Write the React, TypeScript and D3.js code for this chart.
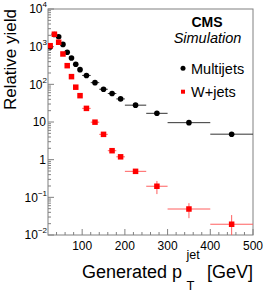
import React from "react";
import * as d3 from "d3";

const binEdges = [20, 30, 40, 50, 60, 70, 80, 90, 100, 120, 140, 160, 180, 200, 250, 300, 400, 500];
const multijets = [980, 2100, 1840, 1150, 710, 500, 340, 245, 172, 111, 74, 57, 41, 28, 17, 9.6, 4.75];
const wjets = [1060, 2140, 1310, 640, 313, 160, 84, 50, 23, 9.9, 4.7, 1.73, 1.19, 0.49, 0.197, 0.049, 0.0193];
const wjetsErr = [0, 0, 0, 0, 0, 0, 0, 0, 0.8, 0.4, 0.25, 0.12, 0.1, 0.05, 0.075, 0.021, 0.0145];
const xTicks = [100, 200, 300, 400, 500];
const yTickExps = [4, 3, 2, 1, 0, -1, -2];

const W = 266, H = 291;
const L = 48, R = 253, T = 9, B = 235;
const FONT = "'Liberation Sans', Arial, Helvetica, sans-serif";

export default function App() {
  const x = d3.scaleLinear().domain([20, 500]).range([L, R]);
  const y = d3.scaleLog().domain([0.01, 10000]).range([B, T]);
  const bins = multijets.map((_, i) => ({
    lo: binEdges[i], hi: binEdges[i + 1], c: (binEdges[i] + binEdges[i + 1]) / 2,
  }));

  const minorX: number[] = [];
  for (let v = 40; v < 500; v += 20) if (v % 100 !== 0) minorX.push(v);
  const minorY: number[] = [];
  for (let e = -2; e < 4; e++) for (let k = 2; k <= 9; k++) minorY.push(k * Math.pow(10, e));

  const axisColor = "#808080";
  const redErrColor = "rgb(255,95,95)";

  return (
    <svg width={W} height={H} style={{ position: "absolute", left: 0, top: 0, background: "#fff" }} fontFamily={FONT}>
      <defs>
        <clipPath id="plot"><rect x={L} y={T} width={R - L} height={B - T} /></clipPath>
      </defs>
      {/* ticks */}
      {xTicks.map((v) => (
        <line key={"xt" + v} x1={x(v)} x2={x(v)} y1={B} y2={B - 6} stroke={axisColor} />
      ))}
      {minorX.map((v) => (
        <line key={"xm" + v} x1={x(v)} x2={x(v)} y1={B} y2={B - 3} stroke={axisColor} />
      ))}
      {yTickExps.map((e) => (
        <line key={"yt" + e} x1={L} x2={L + 6} y1={y(Math.pow(10, e))} y2={y(Math.pow(10, e))} stroke={axisColor} />
      ))}
      {minorY.map((v, i) => (
        <line key={"ym" + i} x1={L} x2={L + 3} y1={y(v)} y2={y(v)} stroke={axisColor} />
      ))}
      {/* frame */}
      <rect x={L} y={T} width={R - L} height={B - T} fill="none" stroke={axisColor} />

      <g clipPath="url(#plot)">
        {/* Multijets */}
        {bins.map((b, i) => (
          <line key={"bx" + i} x1={x(b.lo)} x2={x(b.hi)} y1={y(multijets[i])} y2={y(multijets[i])} stroke="#333" />
        ))}
        {bins.map((b, i) => (
          <circle key={"bc" + i} cx={x(b.c)} cy={y(multijets[i])} r={2.8} fill="#000" />
        ))}
        {/* W+jets */}
        {bins.map((b, i) => (
          <g key={"re" + i}>
            <line x1={x(b.lo)} x2={x(b.hi)} y1={y(wjets[i])} y2={y(wjets[i])} stroke={redErrColor} />
            {wjetsErr[i] > 0 && (
              <line x1={x(b.c)} x2={x(b.c)}
                y1={y(wjets[i] + wjetsErr[i])}
                y2={y(Math.max(wjets[i] - wjetsErr[i], 0.001))} stroke={redErrColor} />
            )}
          </g>
        ))}
        {bins.map((b, i) => (
          <rect key={"rs" + i} x={x(b.c) - 2.75} y={y(wjets[i]) - 2.75} width={5.5} height={5.5} fill="#ff0000" />
        ))}
      </g>

      {/* x tick labels */}
      {xTicks.map((v) => (
        <text key={"xl" + v} x={x(v)} y={250} fontSize={12} textAnchor="middle" fill="#000">{v}</text>
      ))}
      {/* y tick labels */}
      {yTickExps.map((e) => {
        const yy = y(Math.pow(10, e)) + 4.3;
        if (e === 0) return <text key={"yl" + e} x={46} y={yy} fontSize={12} textAnchor="end">1</text>;
        if (e === 1) return <text key={"yl" + e} x={46} y={yy} fontSize={12} textAnchor="end">10</text>;
        return (
          <text key={"yl" + e} x={47} y={yy} fontSize={12} textAnchor="end">
            10<tspan fontSize={8} dy={-6}>{e < 0 ? "\u2212" + Math.abs(e) : String(e)}</tspan>
          </text>
        );
      })}

      {/* axis titles */}
      <text transform={`translate(16,${T}) rotate(-90)`} fontSize={17} textAnchor="end">Relative yield</text>
      <text x={182} y={278} fontSize={18} textAnchor="end">Generated p</text>
      <text x={186.5} y={289.5} fontSize={13}>T</text>
      <text x={186.5} y={259} fontSize={12.5}>jet</text>
      <text x={R} y={278} fontSize={18} textAnchor="end">[GeV]</text>

      {/* legend */}
      <text x={207} y={27} fontSize={14} fontWeight="bold" textAnchor="middle">CMS</text>
      <text x={207.5} y={43} fontSize={14.5} fontStyle="italic" textAnchor="middle">Simulation</text>
      <circle cx={183} cy={68.3} r={2.5} fill="#000" />
      <text x={191} y={73.5} fontSize={14.5}>Multijets</text>
      <rect x={181} y={89.7} width={4} height={4} fill="#ff0000" />
      <text x={191} y={97} fontSize={14.5}>W+jets</text>
    </svg>
  );
}
